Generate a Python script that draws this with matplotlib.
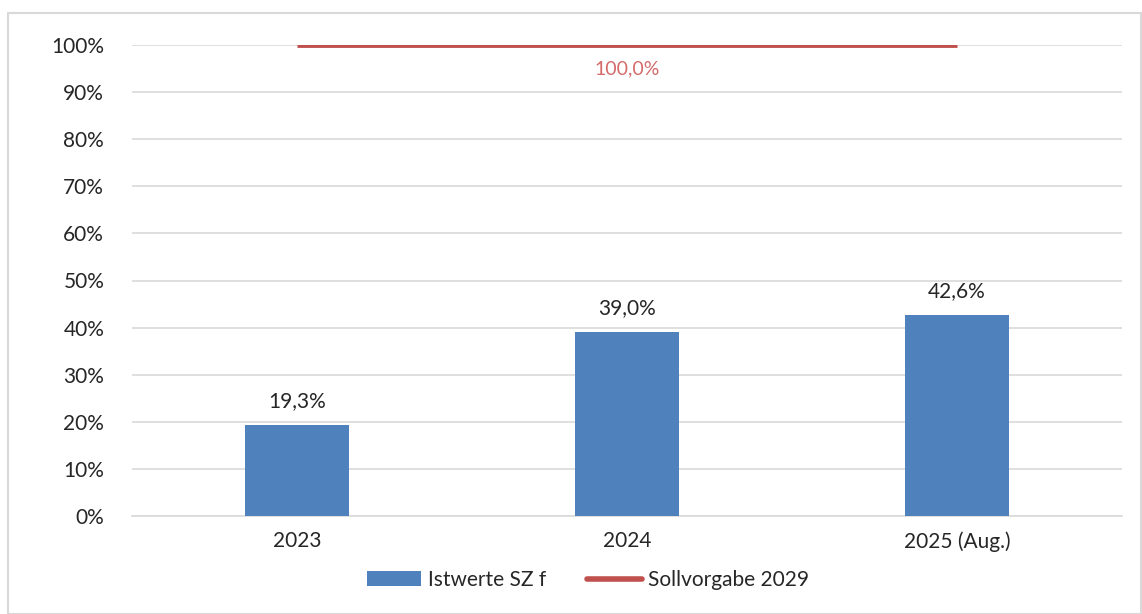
import matplotlib
matplotlib.use("Agg")
import matplotlib.pyplot as plt
from matplotlib.patches import Rectangle, Patch
from matplotlib.lines import Line2D

categories = ["2023", "2024", "2025 (Aug.)"]
istwerte = [19.3, 39.0, 42.6]
soll = [100.0, 100.0, 100.0]
yticks = [0, 10, 20, 30, 40, 50, 60, 70, 80, 90, 100]

plt.rcParams['font.family'] = ['Lato', 'DejaVu Sans']

W, H = 1142, 614
fig = plt.figure(figsize=(W/100, H/100), dpi=100)
fig.patch.set_facecolor('white')
fig.add_artist(Rectangle((8/W, 0), (W-9)/W, (H-13)/H, transform=fig.transFigure,
                         fill=False, edgecolor='#D9D9D9', linewidth=1.5))

ax = fig.add_axes([132/W, (H-516)/H, 990/W, (516-45)/H])
x = list(range(len(categories)))
bar_color = '#4F81BD'
line_color = '#C0504D'
ax.bar(x, istwerte, width=0.315, color=bar_color, zorder=3)
ax.plot(x, soll, color=line_color, linewidth=3.5, zorder=4, solid_capstyle='butt')

for xi, v in zip(x, istwerte):
    ax.text(xi, v + 3.0, f"{v:.1f}%".replace('.', ','), ha='center', va='bottom',
            fontsize=15, color='#262626')
ax.text(x[1], soll[1] - 3.3, f"{soll[1]:.1f}%".replace('.', ','), ha='center', va='top',
        fontsize=14, color='#D46A6A')

ax.set_xlim(-0.5, len(categories) - 0.5)
ax.set_ylim(0, 100)
ax.set_yticks(yticks)
ax.set_yticklabels([f"{t}%" for t in yticks])
ax.set_xticks(x)
ax.set_xticklabels(categories)
ax.tick_params(axis='both', length=0, labelsize=15, labelcolor='#262626')
ax.tick_params(axis='y', pad=20)
ax.tick_params(axis='x', pad=11)
ax.grid(axis='y', color='#D9D9D9', linewidth=1.2, zorder=0)
ax.set_axisbelow(True)
for s in ['top', 'right', 'left']:
    ax.spines[s].set_visible(False)
ax.spines['bottom'].set_color('#D9D9D9')
ax.spines['bottom'].set_linewidth(1.2)

handles = [Patch(facecolor=bar_color, edgecolor='none'),
           Line2D([0], [0], color=line_color, linewidth=4, solid_capstyle='round')]
fig.legend(handles, ["Istwerte SZ f", "Sollvorgabe 2029"], loc='center',
           bbox_to_anchor=(588/W, (H-580)/H), ncol=2, frameon=False,
           fontsize=15, handlelength=2.6, handletextpad=0.3, columnspacing=2.0,
           labelcolor='#262626')

fig.savefig("out.png", dpi=100, facecolor='white')
